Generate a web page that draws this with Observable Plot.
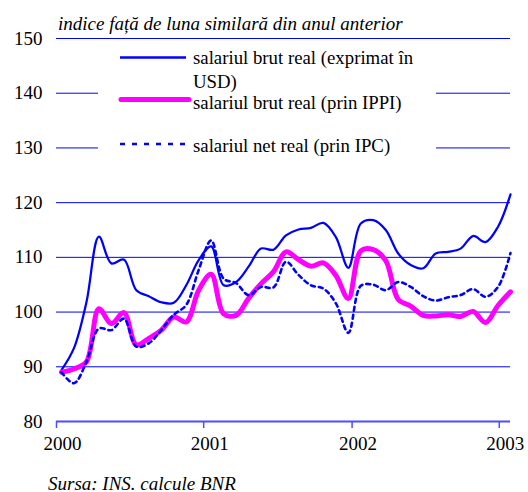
<!DOCTYPE html>
<html><head><meta charset="utf-8">
<script src="https://cdn.jsdelivr.net/npm/d3@7"></script>
<script src="https://cdn.jsdelivr.net/npm/@observablehq/plot@0.6"></script>
<style>
body{margin:0;background:#fff;}
#wrap{position:relative;width:528px;height:492px;overflow:hidden;font-family:"Liberation Serif","Times New Roman","Nimbus Roman","Tinos","DejaVu Serif",serif;color:#000;}
#chart{position:absolute;left:0;top:0;}
.t{position:absolute;white-space:nowrap;font-size:18.8px;line-height:18.8px;}
.i{font-style:italic;font-size:19px;line-height:19px;}
#legend{position:absolute;left:98px;top:44px;width:338px;height:116px;background:#fff;}
</style></head><body>
<div id="wrap">
  <div id="chart"></div>
  <div class="t i" style="left:58px;top:13.5px;">indice față de luna similară din anul anterior</div>
  <div id="legend"></div>
  <div class="t i" style="left:48px;top:473.5px;">Sursa: INS. calcule BNR</div>
</div>
<script>
// Series names (legend)
const seriesNames = [
  "salariul brut real (exprimat în USD)",
  "salariul brut real (prin IPPI)",
  "salariul net real (prin IPC)"
];
// Months: Jan 2000 .. Jan 2003 (37 monthly observations)
const monthIndex = d3.range(37);
// salariul brut real (exprimat în USD)
const usd = [89.4, 93.4, 101.8, 113.8, 108.9, 109.6, 104.0, 102.9, 101.8, 101.7, 104.9, 109.5,
             112.0, 104.9, 105.5, 108.3, 111.6, 111.4, 114.0, 115.1, 115.4, 116.3, 113.7, 108.1,
             116.2, 116.8, 115.0, 110.7, 108.6, 108.0, 110.7, 111.0, 111.6, 113.9, 112.8, 115.6,
             121.5];
// salariul brut real (prin IPPI)
const ippi = [89.0, 89.6, 90.9, 100.6, 97.9, 99.9, 94.0, 95.2, 96.7, 99.1, 98.2, 104.0,
              106.9, 99.7, 99.4, 102.5, 105.2, 107.4, 111.0, 109.6, 108.4, 109.0, 106.7, 102.5,
              111.2, 111.4, 109.4, 102.3, 101.1, 99.4, 99.3, 99.5, 99.2, 100.1, 98.1, 101.2,
              103.7];
// salariul net real (prin IPC)
const ipc = [89.0, 87.0, 90.9, 97.0, 96.7, 98.8, 93.7, 94.3, 96.7, 99.5, 101.3, 107.7,
             113.1, 106.1, 105.3, 103.1, 104.6, 104.5, 109.2, 106.8, 104.9, 104.3, 101.6, 96.2,
             104.8, 105.0, 104.0, 105.5, 104.6, 102.9, 102.1, 102.7, 103.1, 104.2, 102.8, 104.6,
             110.8];
// Axis ticks
const yTicks = [80, 90, 100, 110, 120, 130, 140, 150];
const gridValues = [90, 100, 110, 120, 130, 140, 150];
const yearLabels = ["2000", "2001", "2002", "2003"];
const yearTickIdx = [-0.4, 11.4, 23.3, 35.1];

const rows = (arr) => monthIndex.map(i => ({i, v: arr[i]}));
const FONT = "'Liberation Serif','Times New Roman','Nimbus Roman','Tinos','DejaVu Serif',serif";

const chart = Plot.plot({
  width: 528,
  height: 492,
  marginTop: 38,
  marginBottom: 71,
  marginLeft: 56,
  marginRight: 18,
  style: {fontFamily: FONT, fontSize: "19px", background: "transparent", color: "#000"},
  x: {type: "linear", domain: [-0.4, 36], label: null},
  y: {domain: [80, 150], label: null},
  marks: [
    Plot.ruleY(gridValues, {stroke: "#0000ff", strokeWidth: 1}),
    Plot.ruleY([80], {stroke: "#4d4dff", strokeWidth: 2}),
    Plot.axisY({ticks: yTicks, tickSize: 0, tickPadding: 14, fontSize: 19, fill: "#000", label: null}),
    Plot.axisX({ticks: yearTickIdx, tickSize: 7, stroke: "#4d4dff", strokeWidth: 1.5, tickFormat: () => "", label: null}),
    Plot.axisX({ticks: yearTickIdx, tickSize: 0, tickPadding: 15, dx: 6, fontSize: 19, fill: "#000", label: null,
                tickFormat: d => yearLabels[yearTickIdx.indexOf(d)]}),
    Plot.line(rows(usd), {x: "i", y: "v", stroke: "#0000ff", strokeWidth: 2.25, curve: "catmull-rom"}),
    Plot.line(rows(ippi), {x: "i", y: "v", stroke: "#ff00ff", strokeWidth: 5, curve: "catmull-rom", strokeLinecap: "round", strokeLinejoin: "round"}),
    Plot.line(rows(ipc), {x: "i", y: "v", stroke: "#0000ff", strokeWidth: 2.6, strokeDasharray: "4,4", curve: "catmull-rom"})
  ]
});
document.getElementById("chart").appendChild(chart);

// Legend (HTML overlay with white background, like the original)
const legend = document.getElementById("legend");
const ox = 98, oy = 44;
const swatches = [
  {y: 57.5, x1: 120, x2: 186, stroke: "#0000ff", w: 2.6, dash: null, cap: "butt"},
  {y: 99.5, x1: 121, x2: 189, stroke: "#ff00ff", w: 5, dash: null, cap: "round"},
  {y: 144, x1: 120, x2: 190, stroke: "#0000ff", w: 2.6, dash: "5,7", cap: "butt"}
];
const ns = "http://www.w3.org/2000/svg";
const sv = document.createElementNS(ns, "svg");
sv.setAttribute("width", 338); sv.setAttribute("height", 116);
sv.style.position = "absolute"; sv.style.left = "0"; sv.style.top = "0";
swatches.forEach(s => {
  const l = document.createElementNS(ns, "line");
  l.setAttribute("x1", s.x1 - ox); l.setAttribute("x2", s.x2 - ox);
  l.setAttribute("y1", s.y - oy); l.setAttribute("y2", s.y - oy);
  l.setAttribute("stroke", s.stroke); l.setAttribute("stroke-width", s.w);
  l.setAttribute("stroke-linecap", s.cap);
  if (s.dash) l.setAttribute("stroke-dasharray", s.dash);
  sv.appendChild(l);
});
legend.appendChild(sv);
const texts = [
  {txt: "salariul brut real (exprimat în", base: 65},
  {txt: "USD)", base: 88.5},
  {txt: seriesNames[1], base: 109.2},
  {txt: seriesNames[2], base: 152.7}
];
texts.forEach(t => {
  const d = document.createElement("div");
  d.className = "t";
  d.textContent = t.txt;
  d.style.left = (193 - ox) + "px";
  d.style.top = (t.base - 15.7 - oy) + "px";
  legend.appendChild(d);
});
</script>
</body></html>
